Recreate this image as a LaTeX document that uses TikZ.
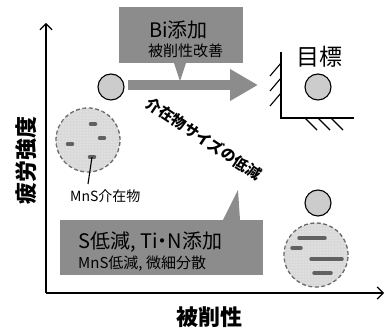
\documentclass[tikz,border=0pt]{standalone}
\usepackage{fontspec}
\setmainfont{Noto Sans CJK JP}
\usetikzlibrary{positioning, arrows.meta, patterns}

\definecolor{boxgray}{gray}{0.55}
\definecolor{dotgray}{gray}{0.8}
\definecolor{inclgray}{gray}{0.85}
\definecolor{rimgray}{gray}{0.4}
\definecolor{bargray}{gray}{0.38}

\newcommand{\fs}[1]{\fontsize{#1}{#1}\selectfont}

\begin{document}
\begin{tikzpicture}[
  x=1pt, y=-1pt,
  dot/.style={circle, draw, fill=dotgray, line width=1.1pt, minimum size=26pt, inner sep=0pt},
  incl/.style={circle, draw=rimgray, dash pattern=on 4pt off 2.5pt, line width=1.3pt,
    fill=inclgray, postaction={pattern=dots, pattern color=white},
    minimum size=64pt, inner sep=0pt},
  bar/.style={bargray, line width=3.5pt, line cap=round},
  box/.style={rectangle, fill=boxgray, inner sep=0pt},
  txt/.style={inner sep=0pt},
  hatch/.style={line width=1.1pt},
  axis/.style={line width=1.2pt, -{Straight Barb[length=6pt, width=12pt]}}
]
\useasboundingbox (0,0) rectangle (386,331);

% axes
\coordinate (o) at (46,293);
\coordinate (ytip) at (46,23);
\coordinate (xtip) at (384,293);
\draw[axis] (o) -- (ytip);
\draw[axis] (o) -- (xtip);
\node[txt, rotate=90, font={\bfseries\fs{22}}] (ylab) at (26,161) {疲労強度};
\node[txt, font={\bfseries\fs{22}}] (xlab) at (209,317) {被削性};

% target corner
\coordinate (gtop) at (281,52);
\coordinate (gcorner) at (281,118);
\coordinate (gright) at (354,118);
\draw[line width=1.2pt] (gtop) -- (gcorner) -- (gright);
\foreach \y in {63,78,93}
  \draw[hatch] (281,\y) -- ++(-11,13);
\foreach \x in {305,318,331}
  \draw[hatch] (\x,118) -- ++(12,12);
\node[txt, font={\fs{23}}] (goallab) at (319,57) {目標};

% property points
\node[dot] (p0) at (111,87) {};
\node[dot] (p1) at (318,87) {};
\node[dot] (p2) at (318,203) {};

% Bi addition
\coordinate (arrS) at (128,85);
\coordinate (arrE) at (258,85);
\draw[boxgray, line width=10pt, -{Triangle[length=28pt, width=30pt]}] (arrS) -- (arrE);
\node[box, minimum width=124pt, minimum height=56pt] (bibox) at (181,35) {};
\coordinate (bitip) at (180,81);
\fill[boxgray] ([xshift=-7pt]bibox.south) -- (bitip) -- ([xshift=5pt]bibox.south) -- cycle;
\node[txt, anchor=west, font={\fs{20}}] (bititle) at (149,30) {Bi添加};
\node[txt, anchor=west, font={\fs{15}}] (bisub) at (148,51) {被削性改善};

\node[txt, rotate=-33.6, font={\bfseries\fs{15}}] (sizelab) at (204,138.5) {介在物サイズの低減};

% coarse MnS
\node[incl] (mL) at (88,140) {};
\foreach \x/\y in {93/124, 102/138, 70/144, 92/157}
  \draw[bar] (\x-2.5,\y) -- ++(5,0);
\coordinate (lead0) at (92,157);
\coordinate (lead1) at (88,184);
\draw[line width=1.1pt] (lead0) -- (lead1);
\node[txt, anchor=west, font={\fs{14}}] (mnslab) at (70,196) {MnS介在物};

% S reduction, Ti-N addition
\node[box, minimum width=203pt, minimum height=55pt] (tibox) at (161.5,247.5) {};
\coordinate (titip) at (238,190);
\fill[boxgray] ([xshift=61.5pt]tibox.north) -- (titip) -- ([xshift=78.5pt]tibox.north) -- cycle;
\node[txt, anchor=west, font={\fs{20}}] (tititle) at (78,242) {S低減, Ti\kern-5pt・\kern-5pt N添加};
\node[txt, anchor=west, font={\fs{15}}] (tisub) at (78,264) {MnS低減, 微細分散};

% fine MnS
\node[incl] (mR) at (316,255) {};
\foreach \x/\y/\l in {312/238/26, 296.5/248/9, 326.5/259/31, 322.5/273/17}
  \draw[bar] (\x-\l/2,\y) -- ++(\l,0);
\end{tikzpicture}
\end{document}
